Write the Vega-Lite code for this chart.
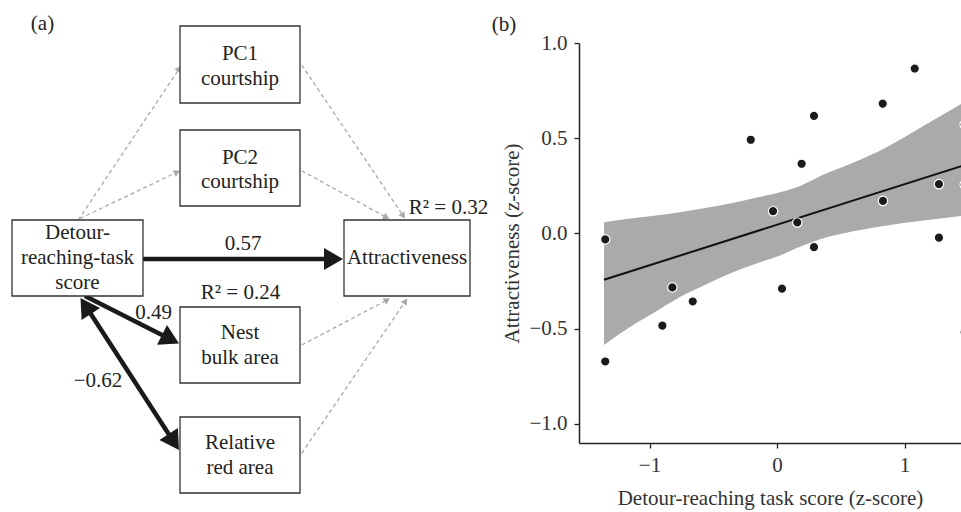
{
  "$schema": "https://vega.github.io/schema/vega-lite/v6.json",
  "padding": 0,
  "spacing": 0,
  "bounds": "flush",
  "config": {
    "view": {"stroke": null},
    "font": "'Liberation Serif', 'Times New Roman', Times, serif",
    "axis": {
      "grid": false,
      "domainColor": "#222",
      "domainWidth": 1.5,
      "tickColor": "#222",
      "tickWidth": 1.3,
      "tickSize": 5,
      "labelFont": "'Liberation Serif', 'Times New Roman', Times, serif",
      "labelFontSize": 21,
      "labelColor": "#333",
      "titleFont": "'Liberation Serif', 'Times New Roman', Times, serif",
      "titleFontSize": 21,
      "titleFontWeight": "normal",
      "titleColor": "#333"
    }
  },
  "datasets": {
    "boxes": [
      {"x1": 180, "x2": 300, "y1": 26, "y2": 103},
      {"x1": 180, "x2": 300, "y1": 130, "y2": 206},
      {"x1": 12, "x2": 143, "y1": 220, "y2": 296},
      {"x1": 344, "x2": 470, "y1": 220, "y2": 296},
      {"x1": 180, "x2": 300, "y1": 307, "y2": 383},
      {"x1": 180, "x2": 300, "y1": 417, "y2": 493}
    ],
    "labels": [
      {"x": 240, "y": 60, "t": "PC1"},
      {"x": 240, "y": 85, "t": "courtship"},
      {"x": 240, "y": 163.5, "t": "PC2"},
      {"x": 240, "y": 187.5, "t": "courtship"},
      {"x": 77.5, "y": 238.5, "t": "Detour-"},
      {"x": 77.5, "y": 264, "t": "reaching-task"},
      {"x": 77.5, "y": 289, "t": "score"},
      {"x": 407, "y": 264, "t": "Attractiveness"},
      {"x": 240, "y": 338.5, "t": "Nest"},
      {"x": 240, "y": 363.5, "t": "bulk area"},
      {"x": 240, "y": 448.5, "t": "Relative"},
      {"x": 240, "y": 473.5, "t": "red area"},
      {"x": 243, "y": 250, "t": "0.57"},
      {"x": 448.5, "y": 213.5, "t": "R² = 0.32"},
      {"x": 240.5, "y": 298.5, "t": "R² = 0.24"},
      {"x": 153.5, "y": 318.5, "t": "0.49"},
      {"x": 98, "y": 386.5, "t": "−0.62"},
      {"x": 42.5, "y": 30, "t": "(a)"},
      {"x": 504, "y": 30.5, "t": "(b)"}
    ],
    "edges": [
      {"x1": 78.3, "y1": 220, "x2": 181, "y2": 66, "kind": "ns", "both": false},
      {"x1": 80, "y1": 218.5, "x2": 180, "y2": 170.7, "kind": "ns", "both": false},
      {"x1": 301.7, "y1": 65, "x2": 405, "y2": 218.5, "kind": "ns", "both": false},
      {"x1": 301.7, "y1": 170.7, "x2": 389.3, "y2": 219, "kind": "ns", "both": false},
      {"x1": 301.7, "y1": 345, "x2": 390, "y2": 298.5, "kind": "ns", "both": false},
      {"x1": 301.7, "y1": 453.3, "x2": 407.3, "y2": 298.5, "kind": "ns", "both": false},
      {"x1": 143, "y1": 259, "x2": 343, "y2": 259, "kind": "sig", "both": false},
      {"x1": 85, "y1": 296, "x2": 179, "y2": 343.5, "kind": "sig", "both": false},
      {"x1": 80.5, "y1": 298, "x2": 179, "y2": 450, "kind": "sig", "both": true}
    ],
    "band": [
      {"x": -1.357, "lo": -0.585, "hi": 0.059},
      {"x": -1.15, "lo": -0.49, "hi": 0.078},
      {"x": -0.95, "lo": -0.41, "hi": 0.095},
      {"x": -0.761, "lo": -0.334, "hi": 0.112},
      {"x": -0.55, "lo": -0.265, "hi": 0.135},
      {"x": -0.35, "lo": -0.205, "hi": 0.16},
      {"x": -0.15, "lo": -0.155, "hi": 0.19},
      {"x": 0.024, "lo": -0.115, "hi": 0.217},
      {"x": 0.2, "lo": -0.065, "hi": 0.255},
      {"x": 0.337, "lo": -0.03, "hi": 0.3},
      {"x": 0.6, "lo": 0.012, "hi": 0.372},
      {"x": 0.86, "lo": 0.042, "hi": 0.453},
      {"x": 1.15, "lo": 0.068, "hi": 0.565},
      {"x": 1.443, "lo": 0.092, "hi": 0.68},
      {"x": 1.48, "lo": 0.095, "hi": 0.695}
    ],
    "fit": [
      {"x": -1.357, "y": -0.243},
      {"x": 1.48, "y": 0.361}
    ],
    "points": [
      {"x": -1.347, "y": -0.031},
      {"x": -0.206, "y": 0.492},
      {"x": -0.031, "y": 0.117},
      {"x": 0.159, "y": 0.058},
      {"x": 0.193, "y": 0.366},
      {"x": 0.29, "y": 0.617},
      {"x": 0.29, "y": -0.072},
      {"x": 0.829, "y": 0.682},
      {"x": 0.831, "y": 0.171},
      {"x": 1.08, "y": 0.866},
      {"x": 1.27, "y": 0.259},
      {"x": 1.27, "y": -0.022},
      {"x": 1.472, "y": 0.572},
      {"x": 1.472, "y": 0.256},
      {"x": 1.472, "y": -0.518},
      {"x": -1.347, "y": -0.672},
      {"x": -0.821, "y": -0.283},
      {"x": -0.899, "y": -0.484},
      {"x": -0.661, "y": -0.357},
      {"x": 0.039, "y": -0.29}
    ]
  },
  "hconcat": [
    {
      "width": 579,
      "height": 400,
      "layer": [
        {
          "data": {"values": [{}]},
          "mark": {"type": "rule", "strokeOpacity": 0, "strokeWidth": 0.01},
          "encoding": {
            "x": {"datum": 0, "type": "quantitative", "scale": {"domain": [0, 579], "nice": false, "zero": false}, "axis": null},
            "y": {"datum": 0, "type": "quantitative", "scale": {"domain": [43, 443], "reverse": true, "nice": false, "zero": false}, "axis": null},
            "y2": {"datum": 512}
          }
        },
        {
          "data": {"name": "edges"},
          "transform": [
            {"filter": "datum.kind == 'ns'"},
            {"calculate": "sqrt(pow(datum.x2 - datum.x1, 2) + pow(datum.y2 - datum.y1, 2))", "as": "len"},
            {"calculate": "datum.x2 - (datum.x2 - datum.x1) / datum.len * 4", "as": "ax2"},
            {"calculate": "datum.y2 - (datum.y2 - datum.y1) / datum.len * 4", "as": "ay2"}
          ],
          "mark": {"type": "rule", "color": "#a9a9a9", "strokeWidth": 1.3, "strokeDash": [4, 3]},
          "encoding": {
            "x": {"field": "x1", "type": "quantitative"},
            "y": {"field": "y1", "type": "quantitative"},
            "x2": {"field": "ax2"},
            "y2": {"field": "ay2"}
          }
        },
        {
          "data": {"name": "edges"},
          "transform": [
            {"filter": "datum.kind == 'sig'"},
            {"calculate": "sqrt(pow(datum.x2 - datum.x1, 2) + pow(datum.y2 - datum.y1, 2))", "as": "len"},
            {"calculate": "datum.x2 - (datum.x2 - datum.x1) / datum.len * 14", "as": "ax2"},
            {"calculate": "datum.y2 - (datum.y2 - datum.y1) / datum.len * 14", "as": "ay2"},
            {"calculate": "datum.both ? datum.x1 + (datum.x2 - datum.x1) / datum.len * 14 : datum.x1", "as": "ax1"},
            {"calculate": "datum.both ? datum.y1 + (datum.y2 - datum.y1) / datum.len * 14 : datum.y1", "as": "ay1"}
          ],
          "mark": {"type": "rule", "color": "#1a1a1a", "strokeWidth": 4.5},
          "encoding": {
            "x": {"field": "ax1", "type": "quantitative"},
            "y": {"field": "ay1", "type": "quantitative"},
            "x2": {"field": "ax2"},
            "y2": {"field": "ay2"}
          }
        },
        {
          "data": {"name": "edges"},
          "transform": [
            {"filter": "datum.kind == 'ns'"},
            {"calculate": "atan2(datum.x2 - datum.x1, -(datum.y2 - datum.y1)) * 180 / PI", "as": "ang"}
          ],
          "mark": {"type": "point", "shape": "M0,0L-1.1,1.9L1.1,1.9Z", "filled": true, "color": "#a9a9a9", "opacity": 1, "size": 44, "strokeWidth": 0},
          "encoding": {
            "x": {"field": "x2", "type": "quantitative"},
            "y": {"field": "y2", "type": "quantitative"},
            "angle": {"field": "ang", "type": "quantitative", "scale": null}
          }
        },
        {
          "data": {"name": "edges"},
          "transform": [
            {"filter": "datum.kind == 'sig'"},
            {"calculate": "atan2(datum.x2 - datum.x1, -(datum.y2 - datum.y1)) * 180 / PI", "as": "ang"}
          ],
          "mark": {"type": "point", "shape": "M0,0L-1.1,1.9L1.1,1.9Z", "filled": true, "color": "#1a1a1a", "opacity": 1, "size": 400, "strokeWidth": 0},
          "encoding": {
            "x": {"field": "x2", "type": "quantitative"},
            "y": {"field": "y2", "type": "quantitative"},
            "angle": {"field": "ang", "type": "quantitative", "scale": null}
          }
        },
        {
          "data": {"name": "edges"},
          "transform": [
            {"filter": "datum.both"},
            {"calculate": "atan2(datum.x1 - datum.x2, -(datum.y1 - datum.y2)) * 180 / PI", "as": "ang"}
          ],
          "mark": {"type": "point", "shape": "M0,0L-1.1,1.9L1.1,1.9Z", "filled": true, "color": "#1a1a1a", "opacity": 1, "size": 400, "strokeWidth": 0},
          "encoding": {
            "x": {"field": "x1", "type": "quantitative"},
            "y": {"field": "y1", "type": "quantitative"},
            "angle": {"field": "ang", "type": "quantitative", "scale": null}
          }
        },
        {
          "data": {"name": "boxes"},
          "mark": {"type": "rect", "fill": "white", "stroke": "#333", "strokeWidth": 1.3},
          "encoding": {
            "x": {"field": "x1", "type": "quantitative"},
            "x2": {"field": "x2"},
            "y": {"field": "y1", "type": "quantitative"},
            "y2": {"field": "y2"}
          }
        },
        {
          "data": {"name": "labels"},
          "mark": {"type": "text", "font": "'Liberation Serif', 'Times New Roman', Times, serif", "fontSize": 21, "align": "center", "baseline": "alphabetic", "color": "#222"},
          "encoding": {
            "x": {"field": "x", "type": "quantitative"},
            "y": {"field": "y", "type": "quantitative"},
            "text": {"field": "t"}
          }
        }
      ]
    },
    {
      "width": 382,
      "height": 400,
      "layer": [
        {
          "data": {"name": "band"},
          "mark": {"type": "area", "color": "#aaaaac", "opacity": 1, "interpolate": "monotone", "clip": true},
          "encoding": {
            "x": {
              "field": "x", "type": "quantitative",
              "scale": {"domain": [-1.553, 1.443], "nice": false, "zero": false},
              "axis": {"values": [-1, 0, 1], "format": "d", "labelPadding": 6, "titlePadding": 12},
              "title": "Detour-reaching task score (z-score)"
            },
            "y": {
              "field": "lo", "type": "quantitative",
              "scale": {"domain": [-1.1, 1.0], "nice": false, "zero": false},
              "axis": {"values": [-1, -0.5, 0, 0.5, 1], "format": ".1f", "labelPadding": 7, "titlePadding": 6},
              "title": "Attractiveness (z-score)"
            },
            "y2": {"field": "hi"}
          }
        },
        {
          "data": {"name": "fit"},
          "mark": {"type": "line", "color": "#111", "strokeWidth": 2, "clip": true},
          "encoding": {
            "x": {"field": "x", "type": "quantitative"},
            "y": {"field": "y", "type": "quantitative"}
          }
        },
        {
          "data": {"name": "points"},
          "mark": {"type": "circle", "fill": "#1a1a1a", "stroke": "white", "strokeWidth": 1.2, "opacity": 1, "size": 88, "clip": true},
          "encoding": {
            "x": {"field": "x", "type": "quantitative"},
            "y": {"field": "y", "type": "quantitative"}
          }
        }
      ]
    }
  ]
}
